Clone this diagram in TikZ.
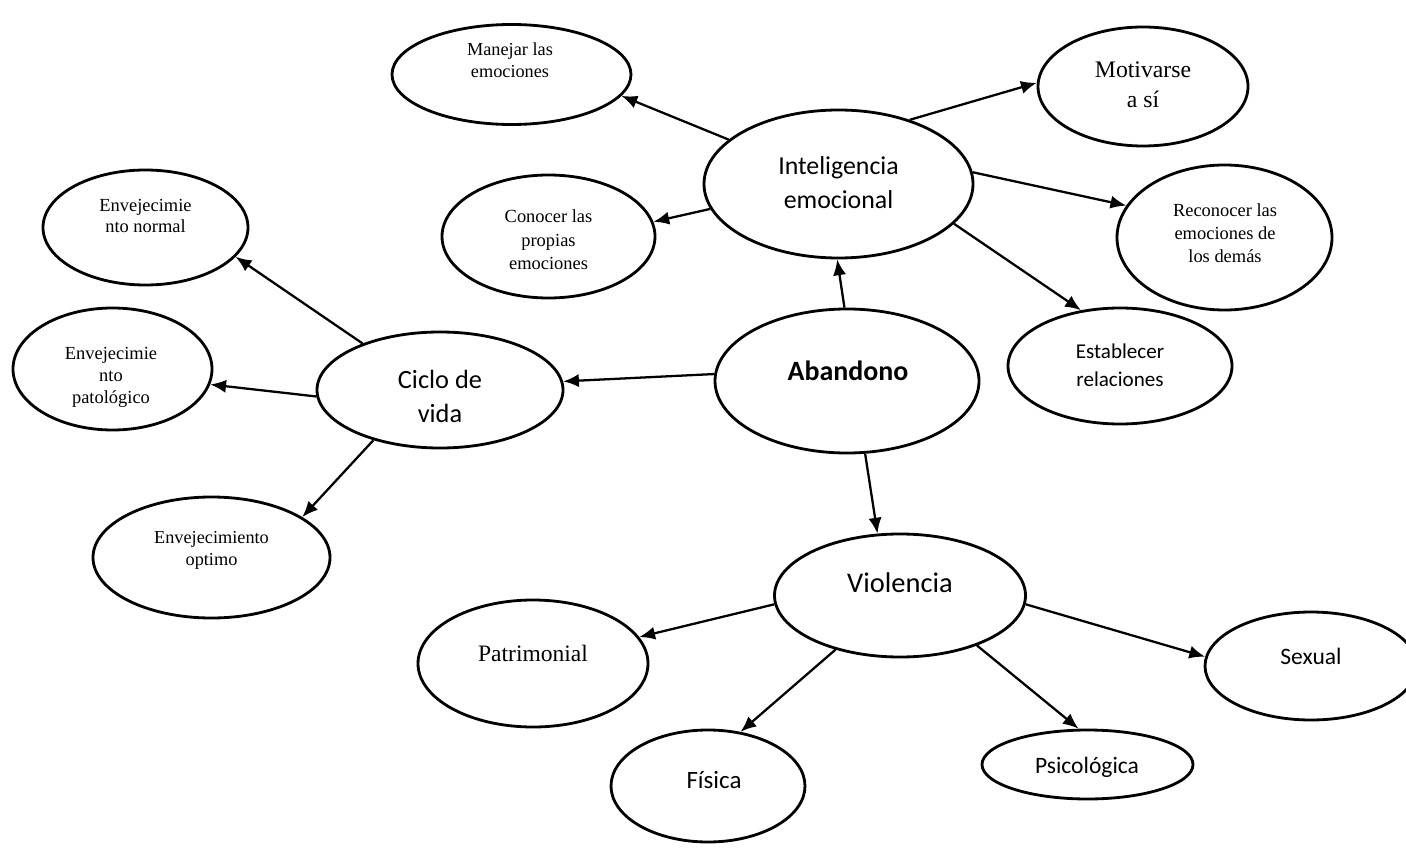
\documentclass[tikz,border=0pt]{standalone}
\usepackage{fontspec}
\setmainfont{Liberation Serif}
\newfontfamily\calibri{Carlito}
\usepackage{tikz}
\usetikzlibrary{shapes.geometric}
\usetikzlibrary{arrows.meta}
\newcommand\tam[2]{\fontsize{#1}{#2}\selectfont}

\begin{document}
\begin{tikzpicture}[x=0.02cm,y=-0.02cm,
  burbuja/.style 2 args={ellipse,draw,line width=1.6pt,inner sep=0pt,
    minimum width=#1*0.02cm,minimum height=#2*0.02cm},
  texto/.style={align=center,inner sep=0pt},
  flecha/.style={-{Latex[length=9pt,width=7.5pt]},line width=1.3pt}]
\useasboundingbox (0,0) rectangle (1406,851);
\path (511.5,74.5) node(man)[burbuja={239}{100}]{}
(1143,86.5) node(mot)[burbuja={210}{119}]{}
(838.5,184) node(int)[burbuja={269}{148}]{}
(548.5,236.5) node(con)[burbuja={213}{123}]{}
(145.5,227.5) node(enn)[burbuja={205}{115}]{}
(112.5,369) node(enp)[burbuja={199}{122}]{}
(440,390) node(cic)[burbuja={246}{116}]{}
(847,381) node(aba)[burbuja={264}{144}]{}
(1120,366) node(est)[burbuja={224}{116}]{}
(1224.5,237.5) node(rec)[burbuja={215}{145}]{}
(211.5,557.5) node(eno)[burbuja={237}{121}]{}
(900,595.5) node(vio)[burbuja={251}{123}]{}
(533,663.5) node(pat)[burbuja={230}{127}]{}
(708,786) node(fis)[burbuja={194}{112}]{}
(1087.5,764.5) node(psi)[burbuja={211}{69}]{}
(1311,666) node(sex)[burbuja={212}{108}]{};
% textos
\path (510,60.5) node(man-t)[texto,font=\tam{10.4}{12.7}]{Manejar las\\emociones}
(1143,85) node(mot-t)[texto,font=\tam{13.5}{17}]{Motivarse\\a sí}
(838.5,182.5) node(int-t)[texto,font=\calibri\tam{14.7}{19.6}]{Inteligencia\\emocional}
(548.5,240) node(con-t)[texto,font=\tam{10.5}{13.3}]{Conocer las\\propias\\emociones}
(145.5,216) node(enn-t)[texto,font=\tam{10.5}{12.5}]{Envejecimie\\nto normal}
(111,377) node(enp-t)[texto,font=\tam{10.5}{12.5}]{Envejecimie\\nto\\patológico}
(440,396) node(cic-t)[texto,font=\calibri\tam{15}{19.3}]{Ciclo de\\vida}
(848,371) node(aba-t)[texto,font=\calibri\bfseries\tam{15.9}{19}]{Abandono}
(1120,365) node(est-t)[texto,font=\calibri\tam{12}{16}]{Establecer\\relaciones}
(1225,233) node(rec-t)[texto,font=\tam{10.5}{13}]{Reconocer las\\emociones de\\los demás}
(211.5,550.5) node(eno-t)[texto,font=\tam{10.4}{12.8}]{Envejecimiento\\optimo}
(900,583) node(vio-t)[texto,font=\calibri\tam{16.2}{19}]{Violencia}
(533,653) node(pat-t)[texto,font=\tam{13.4}{16}]{Patrimonial}
(714,780) node(fis-t)[texto,font=\calibri\tam{14.2}{17}]{Física}
(1087,767) node(psi-t)[texto,font=\calibri\tam{13.4}{16}]{Psicológica}
(1311,656) node(sex-t)[texto,font=\calibri\tam{13.4}{16}]{Sexual};
\draw[flecha](int.158)--(man.-11);
\draw[flecha](int.42)--(mot.178);
\draw[flecha](int.191)--(con.8);
\draw[flecha](int.5)--(rec.162);
\draw[flecha](int.-19)--(est.125);
\draw[flecha](aba.92)--(int.-91);
\draw[flecha](aba.177)--(cic.4);
\draw[flecha](aba.-76)--(vio.110);
\draw[flecha](cic.149)--(enn.-18);
\draw[flecha](cic.183)--(enp.-9);
\draw[flecha](cic.217)--(eno.24);
\draw[flecha](vio.184)--(pat.14);
\draw[flecha](vio.220)--(fis.59);
\draw[flecha](vio.-33)--(psi.104);
\draw[flecha](vio.-4)--(sex.175);
\end{tikzpicture}
\end{document}
